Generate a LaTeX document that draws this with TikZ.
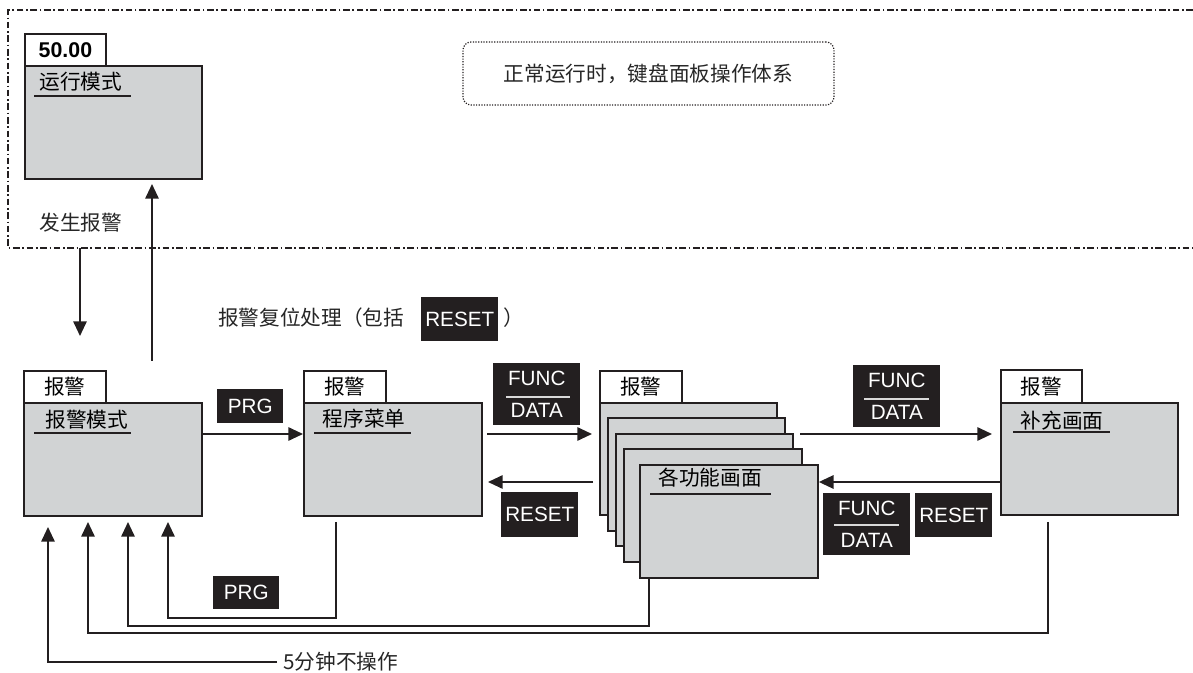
\documentclass[tikz,border=0pt]{standalone}
\usepackage{fontspec}
\setmainfont{Liberation Sans}
\newfontfamily\cjk{Noto Sans CJK SC}
\usetikzlibrary{arrows.meta,calc}
\definecolor{boxgray}{HTML}{D1D3D4}
\definecolor{linec}{HTML}{231F20}
\definecolor{keyblack}{HTML}{231F20}
\begin{document}
\begin{tikzpicture}[x=0.75pt,y=-0.75pt,
  wh/.style 2 args={minimum width=#1*0.75pt, minimum height=#2*0.75pt},
  graybox/.style={draw=linec, fill=boxgray, line width=1.4pt, anchor=north west, inner sep=0pt},
  tabbox/.style={draw=linec, fill=white, line width=1.4pt, anchor=north west, inner sep=0pt, font=\cjk\fontsize{15.5}{18}\selectfont},
  key/.style={fill=keyblack, text=white, anchor=north west, inner sep=0pt, align=center, font=\fontsize{15.5}{24}\selectfont},
  title/.style={font=\cjk\fontsize{15.5}{18}\selectfont, inner sep=0pt, text=black},
  plain/.style={font=\cjk\fontsize{15.5}{18}\selectfont, inner sep=0pt, text=black!85},
  uline/.style={draw=linec, line width=1.2pt},
  sepline/.style={draw=white!85!black, line width=1.1pt},
  conn/.style={draw=linec, line width=1.4pt, line join=miter},
  arr/.style={conn, -{Triangle[length=11pt,width=10pt]}},
  frame/.style={draw=linec, line width=1.2pt, dash pattern=on 5pt off 2pt on 1.2pt off 2pt},
  notebox/.style={draw=linec, line width=0.9pt, dash pattern=on 0.9pt off 1.1pt, rounded corners=6pt, inner sep=0pt}
]
\useasboundingbox (0,0) rectangle (1193,673);

% outer dash-dot frame (open to the right)
\draw[frame] (1193,10) -- (8,10) -- (8,248) -- (1193,248);

% run mode
\node[tabbox, wh={81}{32}, font=\bfseries\fontsize{16}{18}\selectfont] (runtab) at (24,33) {50.00};
\node[graybox, wh={177}{113}] (run) at (24,65) {};
\node[title] (runt) at (81,82) {运行模式};
\draw[uline] (34,96) -- (131,96);

% note
\node[notebox, wh={371}{63}, plain] (note) at (648.5,73.5) {正常运行时，键盘面板操作体系};

% alarm text
\node[plain] (occ) at (81,223) {发生报警};
\node[plain, anchor=west] (rsttxt) at (218,318) {报警复位处理（包括};
\node[key, wh={77}{44}] (rst0) at (421,297) {RESET};
\node[plain, anchor=west] (paren) at (503,318) {）};

% alarm mode
\node[graybox, wh={178}{113}] (alm) at (23,402) {};
\node[tabbox, wh={82}{32}] (tab1) at (23,370) {报警};
\node[title] (almt) at (87,420) {报警模式};
\draw[uline] (34,433) -- (131,433);

% program menu
\node[graybox, wh={178}{113}] (prog) at (303,402) {};
\node[tabbox, wh={82}{32}] (tab2) at (303,370) {报警};
\node[title] (progt) at (364,419) {程序菜单};
\draw[uline] (314,433) -- (411,433);

% stack of function screens
\node[graybox, wh={177}{112}] (s1) at (599,402) {};
\node[graybox, wh={177}{113}] (s2) at (607,417) {};
\node[graybox, wh={177}{112}] (s3) at (615,433) {};
\node[graybox, wh={178}{113}] (s4) at (623,448) {};
\node[graybox, wh={178}{113}] (s5) at (639,464) {};
\node[tabbox, wh={82}{32}] (tab3) at (599,370) {报警};
\node[title] (s5t) at (710,478) {各功能画面};
\draw[uline] (650,494) -- (771,494);

% supplement screen
\node[graybox, wh={177}{112}] (supbox) at (1000,402) {};
\node[tabbox, wh={81}{33}] (tab4) at (1000,369) {报警};
\node[title] (supt) at (1062,421) {补充画面};
\draw[uline] (1013,432) -- (1110,432);

% key labels
\node[key, wh={66}{34}] (prg1) at (217,389) {PRG};
\node[key, wh={87}{62}] (fd1) at (493,363) {FUNC\\DATA};
\draw[sepline] ($(fd1.north west)+(13,34)$) -- ($(fd1.north west)+(77,34)$);
\node[key, wh={77}{45}] (rst1) at (501,492) {RESET};
\node[key, wh={87}{62}] (fd2) at (853,365) {FUNC\\DATA};
\draw[sepline] ($(fd2.north west)+(11,34)$) -- ($(fd2.north west)+(76,34)$);
\node[key, wh={87}{62}] (fd3) at (823,493) {FUNC\\DATA};
\draw[sepline] ($(fd3.north west)+(11,32)$) -- ($(fd3.north west)+(76,32)$);
\node[key, wh={77}{44}] (rst2) at (915,493) {RESET};
\node[key, wh={66}{33}] (prg2) at (213,576) {PRG};
\node[plain, anchor=west] (five) at (283,662) {5分钟不操作};

% connectors
\coordinate (y434) at (0,434);
\coordinate (y482) at (0,482);
\coordinate (occs) at (80,248);
\coordinate (occe) at (80,336);
\draw[arr] (occs) -- (occe);
\coordinate (ups) at (152,361);
\coordinate (upe) at (152,184);
\draw[arr] (ups) -- (upe);
\draw[arr] (alm.east |- y434) -- (prog.west |- y434);
\coordinate (a1s) at (487,434);
\coordinate (a1e) at (592,434);
\draw[arr] (a1s) -- (a1e);
\coordinate (b1s) at (593,482);
\coordinate (b1e) at (488,482);
\draw[arr] (b1s) -- (b1e);
\coordinate (a2s) at (800,434);
\coordinate (a2e) at (992,434);
\draw[arr] (a2s) -- (a2e);
\draw[arr] (supbox.west |- y482) -- (s5.east |- y482);

% return paths
\coordinate (r1s) at (336,522);
\coordinate (r1e) at (168,522);
\draw[arr] (r1s) |- (168,618) -- (r1e);
\coordinate (r2s) at ($(s5.south west)+(10,0)$);
\coordinate (r2e) at (128,522);
\draw[arr] (r2s) |- (128,626) -- (r2e);
\coordinate (r3s) at (1048,522);
\coordinate (r3e) at (88,522);
\draw[arr] (r3s) |- (88,633) -- (r3e);
\coordinate (r4e) at (48,527);
\draw[arr] ($(five.west)+(-6,0)$) -| (r4e);
\end{tikzpicture}
\end{document}
